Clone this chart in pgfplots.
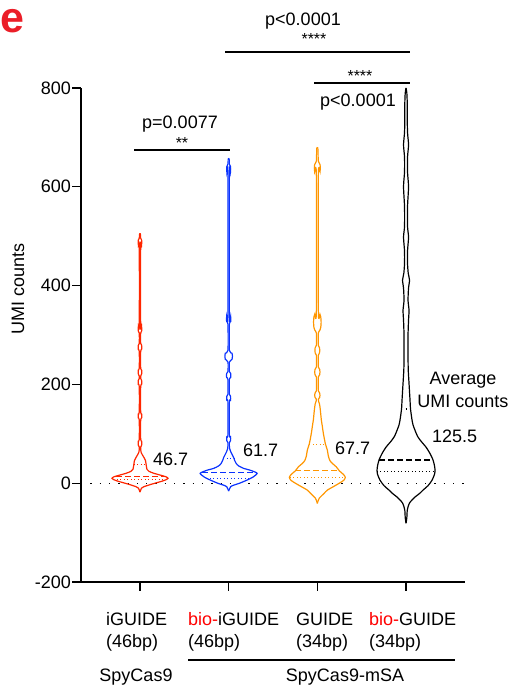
\documentclass[border=0pt]{standalone}
\usepackage{pgfplots}
\pgfplotsset{compat=1.18}
\usepackage{pgfplotstable}
\usepackage{fontspec}
\setmainfont{Liberation Sans}
\definecolor{vred}{RGB}{255,38,0}
\definecolor{vblue}{RGB}{10,50,255}
\definecolor{vorange}{RGB}{255,150,0}
\definecolor{ered}{RGB}{235,30,40}
\definecolor{bred}{RGB}{255,0,0}
\newcommand{\fs}{\fontsize{18}{21}\selectfont}

% violin profiles: y value, half width (px)
\pgfplotstableread{
y w
-18 0
-14 0.7
-10 1.5
-7 4
-3 10
0 15
4 22
7 26
10 28
13 26
16 21
20 14
24 9
28 7
33 6.5
40 6
46 5.5
52 4
57 2.5
62 1.2
68 0.7
73 0.7
77 1.66
81 1.8
85 1.66
89 0.7
128 0.7
132 1.66
136 1.8
140 1.66
144 0.7
196 0.7
200 1.66
204 1.8
208 1.66
212 0.7
217 0.7
221 1.66
225 1.8
229 1.66
233 0.7
267 0.7
271 1.66
275 1.8
279 1.66
283 0.7
304 0.7
308 1.66
312 1.8
316 1.66
320 0.7
480 0.7
484 1.66
488 1.8
492 1.66
496 0.7
503 0.5
506 0
}\redv

\pgfplotstableread{
y w
-16 0
-12 0.7
-7 2
-4 5
0 11
6 18
12 24
20 28.5
26 22
30 15
35 10
40 7.5
46 6
52 5
58 3.5
64 2
70 1
76 0.7
82 0.7
86 1.83
90 2
94 1.83
98 0.7
164 0.7
168 1.83
172 2
176 1.83
180 0.7
210 0.7
214 2.0
218 2.2
222 2.0
226 0.7
245 0.7
251 3.4
257 3.8
263 3.4
269 0.7
322 0.7
327 2.0
332 2.2
337 2.0
342 0.7
626 0.7
631 1.83
636 2
641 1.83
646 0.7
655 0.5
658 0
}\bluev

\pgfplotstableread{
y w
-41 0
-36 0.7
-30 2
-26 4
-20 7
-14 10
-7 16
0 22
6 26.5
12 28
18 26
25 22
33 19
40 15
46 12.5
55 11
67 10
80 8
101 6
115 5
128 4
148 3
160 2.2
166 1.2
170 1
174 2.4
178 2.6
182 2.4
187 1
215 1
220 2.4
225 2.6
230 2.4
235 1
259 1
264 2.2
269 2.4
274 2.2
279 1
304 1
310 2.6
315 3.4
326 3.8
337 3.4
342 2.6
348 1
624 1
631 2.7
638 3
645 2.7
652 1
670 0.7
678 0.5
680 0
}\orangev

\pgfplotstableread{
y w
-81 0
-70 0.8
-55 1.2
-48 2
-40 3.5
-34 6
-28 9
-20 14
-14 17
-5 22
6 26
18 28.5
26 29
35 28.5
47 27
60 24
73 20
85 15
95 11.5
107 9
118 7
128 6
150 4.5
168 4
202 3
230 2.2
260 2
300 2
330 2.5
350 3
370 2
395 2.5
411 3.5
425 2.2
445 1.5
470 1.5
498 2.5
520 1.5
560 1.5
600 2.5
630 1.5
660 1.5
685 2.5
710 1.5
740 1.2
770 1.2
790 0.8
800 0
}\blackv

\begin{document}
\begin{tikzpicture}
\useasboundingbox (0pt,0pt) rectangle (515pt,693pt);
\begin{axis}[
  at={(81pt,111pt)}, anchor=south west,
  width=384pt, height=494pt, scale only axis,
  xmin=-0.665, xmax=3.665, ymin=-200, ymax=800,
  axis x line=bottom, axis y line=left,
  axis line style={-, line width=1.3pt},
  xtick={0,1,2,3}, xticklabels={},
  ytick={-200,0,200,400,600,800}, yticklabels={-200,0,200,400,600,800},
  tick align=outside, major tick length=9pt,
  tick style={line width=1.3pt, black},
  yticklabel style={font=\fs, inner sep=1pt},
  clip=false,
  every axis plot/.append style={line width=1.2pt},
]
\addplot[black, dash pattern=on 1.3pt off 8pt] coordinates {(-0.56,0) (3.665,0)};

\addplot[vred, smooth, tension=0.4] table[x expr=0+\thisrow{w}/88.7, y=y] {\redv};
\addplot[vred, smooth, tension=0.4] table[x expr=0-\thisrow{w}/88.7, y=y] {\redv};
\addplot[vblue, smooth, tension=0.4] table[x expr=1+\thisrow{w}/88.7, y=y] {\bluev};
\addplot[vblue, smooth, tension=0.4] table[x expr=1-\thisrow{w}/88.7, y=y] {\bluev};
\addplot[vorange, smooth, tension=0.4] table[x expr=2+\thisrow{w}/88.7, y=y] {\orangev};
\addplot[vorange, smooth, tension=0.4] table[x expr=2-\thisrow{w}/88.7, y=y] {\orangev};
\addplot[black, smooth, tension=0.4] table[x expr=3+\thisrow{w}/88.7, y=y] {\blackv};
\addplot[black, smooth, tension=0.4] table[x expr=3-\thisrow{w}/88.7, y=y] {\blackv};

% medians (dashed) and quartiles (dotted)
\addplot[vred, dash pattern=on 6pt off 3pt] coordinates {(-0.27,14) (0.27,14)};
\addplot[vred, dash pattern=on 1pt off 2.5pt] coordinates {(-0.30,8) (0.30,8)};
\addplot[vred, dash pattern=on 1pt off 2.5pt] coordinates {(-0.07,38) (0.07,38)};
\addplot[vblue, dash pattern=on 6pt off 3pt] coordinates {(0.70,21) (1.30,21)};
\addplot[vblue, dash pattern=on 1pt off 2.5pt] coordinates {(0.75,10) (1.25,10)};
\addplot[vblue, dash pattern=on 1pt off 2.5pt] coordinates {(0.94,50) (1.06,50)};
\addplot[vorange, dash pattern=on 6pt off 3pt] coordinates {(1.75,25) (2.25,25)};
\addplot[vorange, dash pattern=on 1pt off 2.5pt] coordinates {(1.69,12) (2.31,12)};
\addplot[vorange, dash pattern=on 1pt off 2.5pt] coordinates {(1.91,78) (2.09,78)};
\addplot[black, dash pattern=on 6pt off 3pt] coordinates {(2.70,47) (3.30,47)};
\addplot[black, dash pattern=on 1pt off 2.5pt] coordinates {(2.67,23) (3.33,23)};
\addplot[black, dash pattern=on 1pt off 2.5pt] coordinates {(2.995,150) (3.005,150)};
\end{axis}

% panel letter
\node[anchor=base west, inner sep=0pt, font=\fontsize{43}{43}\selectfont\bfseries, text=ered] at (0pt,660pt) {e};
% y label
\node[rotate=90, font=\fs] at (18pt,404pt) {UMI counts};

% mean labels
\node[anchor=base west, inner sep=0pt, font=\fs] at (153pt,227pt) {46.7};
\node[anchor=base west, inner sep=0pt, font=\fs] at (243pt,236pt) {61.7};
\node[anchor=base west, inner sep=0pt, font=\fs] at (335pt,238pt) {67.7};
\node[anchor=base west, inner sep=0pt, font=\fs] at (432pt,250pt) {125.5};
\node[anchor=base, inner sep=0pt, font=\fs] at (463pt,308pt) {Average};
\node[anchor=base, inner sep=0pt, font=\fs] at (463pt,285pt) {UMI counts};

% significance
\draw[line width=1.2pt] (134pt,543pt) -- (230pt,543pt);
\node[anchor=base, inner sep=0pt, font=\fontsize{16}{16}\selectfont] at (182pt,544pt) {**};
\node[anchor=base, inner sep=0pt, font=\fs] at (180pt,564pt) {p=0.0077};
\draw[line width=1.2pt] (225pt,641pt) -- (410pt,641pt);
\node[anchor=base, inner sep=0pt, font=\fontsize{16}{16}\selectfont] at (314pt,648pt) {****};
\node[anchor=base, inner sep=0pt, font=\fs] at (303pt,667pt) {p<0.0001};
\draw[line width=1.2pt] (314pt,610pt) -- (410pt,610pt);
\node[anchor=base, inner sep=0pt, font=\fontsize{16}{16}\selectfont] at (360pt,611pt) {****};
\node[anchor=base, inner sep=0pt, font=\fs] at (358pt,586pt) {p<0.0001};

% category labels
\node[anchor=base west, inner sep=0pt, font=\fs] at (106pt,67pt) {iGUIDE};
\node[anchor=base west, inner sep=0pt, font=\fs] at (106pt,45pt) {(46bp)};
\node[anchor=base west, inner sep=0pt, font=\fs] at (188pt,67pt) {\textcolor{bred}{bio-}iGUIDE};
\node[anchor=base west, inner sep=0pt, font=\fs] at (188pt,45pt) {(46bp)};
\node[anchor=base west, inner sep=0pt, font=\fs] at (296pt,67pt) {GUIDE};
\node[anchor=base west, inner sep=0pt, font=\fs] at (296pt,45pt) {(34bp)};
\node[anchor=base west, inner sep=0pt, font=\fs] at (369pt,67pt) {\textcolor{bred}{bio-}GUIDE};
\node[anchor=base west, inner sep=0pt, font=\fs] at (369pt,45pt) {(34bp)};
\draw[line width=1.2pt] (188pt,33pt) -- (455pt,33pt);
\node[anchor=base, inner sep=0pt, font=\fs] at (136pt,12pt) {SpyCas9};
\node[anchor=base, inner sep=0pt, font=\fs] at (345pt,12pt) {SpyCas9-mSA};
\end{tikzpicture}
\end{document}
